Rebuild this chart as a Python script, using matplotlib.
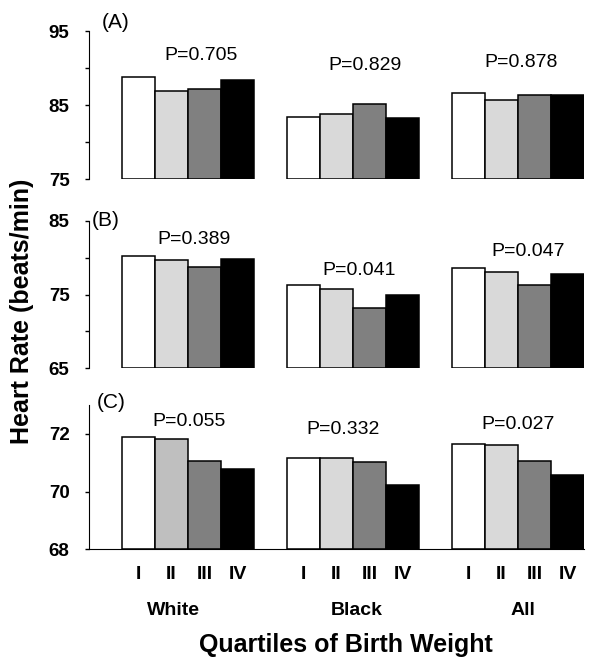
import numpy as np
import matplotlib
matplotlib.use("Agg")
from matplotlib import pyplot as plt
import matplotlib.transforms as mtransforms

groups = ["White", "Black", "All"]
quartiles = ["I", "II", "III", "IV"]

# heart rate per group, quartile I..IV
hr_a = [[88.8, 86.9, 87.1, 88.4],
        [83.4, 83.8, 85.2, 83.2],
        [86.6, 85.7, 86.3, 86.3]]
hr_b = [[80.3, 79.7, 78.7, 79.9],
        [76.3, 75.7, 73.2, 75.0],
        [78.6, 78.1, 76.3, 77.8]]
hr_c = [[71.89, 71.83, 71.07, 70.78],
        [71.18, 71.16, 71.02, 70.24],
        [71.66, 71.63, 71.06, 70.57]]

p_a = ["P=0.705", "P=0.829", "P=0.878"]
p_b = ["P=0.389", "P=0.041", "P=0.047"]
p_c = ["P=0.055", "P=0.332", "P=0.027"]

panels = [
    {"data": hr_a, "p": p_a, "tag": "(A)", "ylim": (75, 95), "major": [75, 85, 95], "minor": [80, 90],
     "p_y": [91.7, 90.3, 90.8], "p_dx": [0.4, 0.36, 0.1], "tag_xy": (0.026, 1.057)},
    {"data": hr_b, "p": p_b, "tag": "(B)", "ylim": (65, 85), "major": [65, 75, 85], "minor": [70, 80],
     "p_y": [82.5, 78.3, 80.8], "p_dx": [0.17, 0.2, 0.3], "tag_xy": (0.006, 1.0)},
    {"data": hr_c, "p": p_c, "tag": "(C)", "ylim": (68, 73), "major": [68, 70, 72], "minor": [],
     "p_y": [72.43, 72.16, 72.34], "p_dx": [0.03, -0.29, 0.0], "tag_xy": (0.016, 1.02)},
]

colors = ["white", "#d9d9d9", "#808080", "black"]
font = "Liberation Sans"

fig = plt.figure(figsize=(6, 6.69), dpi=100)
rects = [[0.1483, 0.7324, 0.825, 0.2212],
         [0.1483, 0.4495, 0.825, 0.2202],
         [0.1483, 0.1789, 0.825, 0.2157]]

for k, pn in enumerate(panels):
    ax = fig.add_axes(rects[k])
    for g in range(3):
        for j in range(4):
            c = colors[j]
            # panel C uses a slightly darker grey for White II
            if k == 2 and g == 0 and j == 1:
                c = "#bfbfbf"
            ax.bar(g * 5 + j, pn["data"][g][j] - pn["ylim"][0], bottom=pn["ylim"][0],
                   width=1.0, color=c, edgecolor="black", linewidth=1.1)
        ax.text(g * 5 + 1.5 + pn["p_dx"][g], pn["p_y"][g], pn["p"][g],
                ha="center", va="center", fontsize=14, family=font)
    ax.set_xlim(-1.5, 13.5)
    ax.set_ylim(*pn["ylim"])
    ax.set_yticks(pn["major"])
    ax.set_yticks(pn["minor"], minor=True)
    ax.set_yticklabels([str(v) for v in pn["major"]], fontsize=13.5, fontweight="bold", family=font)
    ax.tick_params(axis="y", which="both", length=3, width=1, pad=11)
    ax.spines["top"].set_visible(False)
    ax.spines["right"].set_visible(False)
    ax.patch.set_alpha(0)
    if k < 2:
        ax.spines["bottom"].set_visible(False)
        ax.set_xticks([])
    else:
        pos = [g * 5 + j for g in range(3) for j in range(4)]
        ax.set_xticks(pos)
        ax.set_xticklabels(quartiles * 3, fontsize=14, fontweight="bold", family=font)
        ax.tick_params(axis="x", length=0, pad=12)
        trans = mtransforms.blended_transform_factory(ax.transData, ax.transAxes)
        label_dx = [-0.45, 0.1, 0.14]
        for g in range(3):
            ax.text(g * 5 + 1.5 + label_dx[g], -0.425, groups[g], transform=trans,
                    ha="center", va="center", fontsize=14, fontweight="bold", family=font)
    ax.text(pn["tag_xy"][0], pn["tag_xy"][1], pn["tag"], transform=ax.transAxes,
            ha="left", va="center", fontsize=15, family=font)

fig.text(0.577, 0.036, "Quartiles of Birth Weight", ha="center", va="center",
         fontsize=18, fontweight="bold", family=font)
fig.text(0.036, 0.535, "Heart Rate (beats/min)", ha="center", va="center", rotation=90,
         fontsize=18, fontweight="bold", family=font)

fig.savefig("out.png", dpi=100)
